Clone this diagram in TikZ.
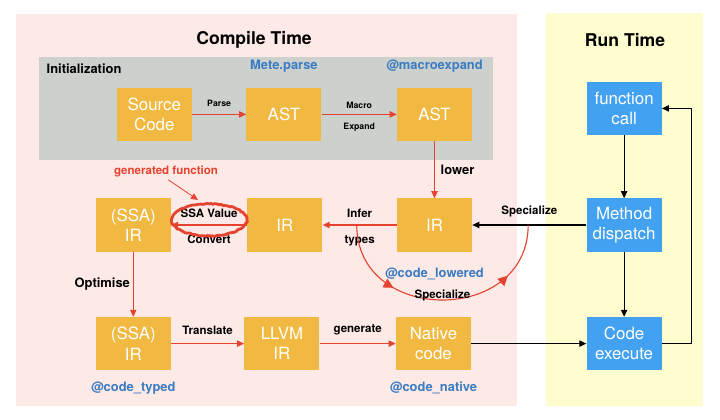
\documentclass[tikz,border=0pt]{standalone}
\usepackage{fontspec}
\setmainfont{TeX Gyre Heros}
\usepackage{xcolor}
\usetikzlibrary{positioning, calc, arrows.meta, decorations.markings, decorations.pathmorphing}

\definecolor{compilebg}{HTML}{FDEAE7}
\definecolor{runbg}{HTML}{FFFDCF}
\definecolor{initbg}{HTML}{CDD1CD}
\definecolor{stageorange}{HTML}{F1B941}
\definecolor{runblue}{HTML}{43A1F1}
\definecolor{tagblue}{HTML}{3B7CC2}
\definecolor{arrowred}{HTML}{E5432F}

\begin{document}
\begin{tikzpicture}[x=0.025cm, y=-0.025cm,
    stage/.style={rectangle, fill=stageorange, minimum width=1.875cm, minimum height=1.325cm, inner sep=0pt, align=center, text=white, font=\fontsize{12}{14.5}\selectfont},
    runbox/.style={stage, fill=runblue},
    title/.style={font=\fontsize{12.5}{14}\selectfont\bfseries},
    lbl/.style={font=\fontsize{8.2}{9}\selectfont\bfseries, inner sep=1pt},
    tiny/.style={font=\fontsize{6.2}{7}\selectfont\bfseries, inner sep=1pt},
    big/.style={font=\fontsize{9.2}{10}\selectfont\bfseries, inner sep=1pt},
    tag/.style={big, text=tagblue},
    redarrow/.style={-{Triangle[length=5pt, width=4.5pt]}, draw=arrowred, line width=0.8pt},
    blackarrow/.style={-{Triangle[length=5pt, width=4.5pt]}, line width=0.8pt},
    ring/.style={draw=arrowred, line width=2pt, decorate, decoration={random steps, segment length=1.5pt, amplitude=0.4pt}},
    specline/.style={color=arrowred, line width=0.8pt, postaction={decorate},
        decoration={markings,
            mark=at position 0.3 with {\arrow{Triangle[length=7pt, width=7pt]}},
            mark=at position 0.78 with {\arrow{Triangle[length=7pt, width=7pt]}}}}
]
\useasboundingbox (0,0) rectangle (720,419);

% regions
\fill[compilebg] (16,14) rectangle (517,406);
\fill[runbg] (546,13) rectangle (703,406);
\fill[initbg] (39,57) rectangle (493,160);

\node[title] (compile) at (254,40) {Compile Time};
\node[title] (run) at (625,40) {Run Time};

% compile time stages
\node[stage] (ir) at (434.5,225) {IR};
\node[stage, left=1.85cm of ir] (irmid) {IR};
\node[stage, left=1.9cm of irmid] (ssa) {(SSA)\\IR};
\node[stage, above=1.425cm of ir] (ast2) {AST};
\node[stage, left=1.875cm of ast2] (ast) {AST};
\node[stage, left=1.35cm of ast] (src) {Source\\Code};
\node[stage, below=1.625cm of ssa] (ssaopt) {(SSA)\\IR};
\node[stage, right=1.825cm of ssaopt] (llvm) {LLVM\\IR};
\node[stage, right=1.9cm of llvm] (native) {Native\\code};

% run time
\node[runbox, right=2.875cm of native] (exec) {Code\\execute};
\node[runbox, above=1.625cm of exec] (dispatch) {Method\\dispatch};
\node[runbox, above=1.575cm of dispatch] (call) {function\\call};

% tags
\node[big, anchor=west] (init) at (45,69) {Initialization};
\node[tag, above=0.35cm of ast] (meteparse) {Mete.parse};
\node[tag, above=0.35cm of ast2] (macroexpand) {@macroexpand};
\node[tag, below=0.35cm of ir] (lowered) {@code\_lowered};
\node[tag, below=0.25cm of ssaopt] (typed) {@code\_typed};
\node[tag, below=0.25cm of native] (nativetag) {@code\_native};

% red flow
\draw[redarrow] (src) -- node[tiny, above=4pt] (parse) {Parse} (ast);
\draw[redarrow] (ast) -- node[tiny, above=3pt] (macro) {Macro} node[tiny, below=5pt] (expand) {Expand} (ast2);
\draw[redarrow] (ast2) -- node[big, right=3pt] (lower) {lower} (ir);
\draw[redarrow] (ir) -- node[lbl, above=4pt] (infer) {Infer} node[lbl, below=6pt] (types) {types} (irmid);
\draw[redarrow] (irmid) -- node[lbl, above=4pt] (ssaval) {SSA Value} node[lbl, below=6pt] (convert) {Convert} (ssa);
\draw[redarrow] (ssa) -- node[big, left=1pt] (optimise) {Optimise} (ssaopt);
\draw[redarrow] (ssaopt) -- node[lbl, above=5pt] (translate) {Translate} (llvm);
\draw[redarrow] (llvm) -- node[lbl, above=5pt] (generate) {generate} (native);

\draw[ring] ([yshift=-0.17cm]ssaval.center) ellipse [x radius=0.94cm, y radius=0.4cm];
\node[lbl, text=arrowred] (gen) at (166,171) {generated function};
\coordinate (ringtop) at (198,200);
\draw[redarrow, line width=0.6pt, shorten <=2pt] (gen.south) -- (ringtop);

% run flow
\draw[blackarrow] (call) -- (dispatch);
\draw[blackarrow] (dispatch) -- (exec);
\draw[blackarrow] (native) -- (exec);
\draw[blackarrow] (dispatch) -- node[lbl, above=4pt] (spec) {Specialize} (ir);
\draw[blackarrow] (exec.east) -- ++(30,0) |- (call.east);

% specialize loop
\coordinate (spa) at ($(ir.west)!0.54!(irmid.east)$);
\coordinate (spb) at ($(dispatch.west)!0.51!(ir.east)$);
\draw[specline] (spa) .. controls +(0,100) and +(0,100) .. node[pos=0.5, lbl, above=-2pt, text=black] (spec2) {Specialize} (spb);

\end{tikzpicture}
\end{document}
